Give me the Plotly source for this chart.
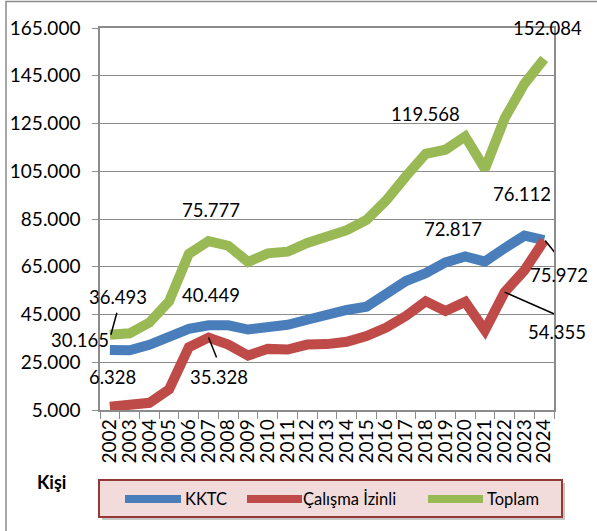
import plotly.graph_objects as go

# ---- data ----
years = [str(y) for y in range(2002, 2025)]
kktc = [30165, 30000, 32300, 35800, 39000, 40449, 40500, 38700, 39700, 40700, 42800, 45200,
        46900, 48300, 53300, 59000, 62300, 66800, 69300, 67200, 72817, 78000, 76112]
calisma = [6328, 6900, 8000, 13600, 31300, 35328, 32400, 27800, 30600, 30300, 32400, 32600,
           33600, 36000, 39500, 44400, 50500, 46500, 50300, 38400, 54355, 63500, 75972]
toplam = [36493, 37100, 41600, 50500, 70400, 75777, 73800, 67000, 70600, 71300, 75000, 78000,
          80300, 84600, 92800, 102900, 112300, 114000, 119568, 106000, 127172, 141600, 152084]
y_tickvals = [5000, 25000, 45000, 65000, 85000, 105000, 125000, 145000, 165000]
y_ticktext = ["5.000", "25.000", "45.000", "65.000", "85.000", "105.000", "125.000", "145.000", "165.000"]
series_names = ["KKTC", "Çalışma İzinli", "Toplam"]
colors = ["#4A7EBB", "#BE4B48", "#98B954"]

FONT = "Lato"
GRID = "#8C8C8C"


def fmt(v):
    return f"{v:,}".replace(",", ".")


fig = go.Figure()
for name, vals, col in zip(series_names, [kktc, calisma, toplam], colors):
    fig.add_trace(go.Scatter(x=years, y=vals, mode="lines", name=name,
                             line=dict(color=col, width=10), showlegend=False))

# data labels: (series values, index, xshift, yshift)
labels = [
    (toplam, 22, 3, 31), (toplam, 18, -40, 22), (kktc, 22, -22, 46),
    (kktc, 20, -52, 19), (calisma, 22, 15, -34), (calisma, 20, 52, -40),
    (toplam, 5, 2, 31), (toplam, 0, 8, 38), (kktc, 0, -30, 10),
    (calisma, 0, 3, 30), (kktc, 5, 2, 30), (calisma, 5, 10, -39),
]
for vals, i, dx, dy in labels:
    fig.add_annotation(x=i, y=vals[i], xref="x", yref="y", text=fmt(vals[i]), showarrow=False,
                       xshift=dx, yshift=dy, font=dict(family=FONT, size=18.5, color="black"))

# leader lines (pixel offsets anchored to data points)
leaders = [(toplam, 0, 7, 22, 1, 0), (calisma, 5, 0, 0, 8, -20),
           (calisma, 20, 0, 0, 50, -22), (calisma, 22, 1, 0, 14, -16)]
for vals, i, x0, y0, x1, y1 in leaders:
    fig.add_shape(type="line", xref="x", yref="y", xsizemode="pixel", ysizemode="pixel",
                  xanchor=i, yanchor=vals[i], x0=x0, y0=y0, x1=x1, y1=y1,
                  line=dict(color="black", width=1.5))

# chart area border (left/top)
W, H, L, B = 454.0, 382.0, 100.0, 410.0
px = lambda x: (x - L) / W
py = lambda y: (B - y) / H
fig.add_shape(type="rect", xref="paper", yref="paper", x0=px(6), x1=px(640), y0=py(1.5), y1=py(580),
              fillcolor="rgba(0,0,0,0)", line=dict(color=GRID, width=1.5), layer="above")

# custom legend
fig.add_shape(type="rect", xref="paper", yref="paper", x0=px(102), x1=px(565), y0=py(520), y1=py(483),
              fillcolor="rgba(0,0,0,0.22)", line=dict(width=0), layer="above")
fig.add_shape(type="rect", xref="paper", yref="paper", x0=px(99), x1=px(562), y0=py(517), y1=py(480),
              fillcolor="#F2DCDB", line=dict(color="#953735", width=2), layer="above")
legend_items = [(125, 181, 183), (247, 302, 301), (428, 483, 485)]
for (s0, s1, tx), name, col in zip(legend_items, series_names, colors):
    fig.add_shape(type="line", xref="paper", yref="paper", x0=px(s0), x1=px(s1), y0=py(499), y1=py(499),
                  line=dict(color=col, width=8), layer="above")
    fig.add_annotation(xref="paper", yref="paper", x=px(tx), y=py(499), xanchor="left", yanchor="middle",
                       text=name, showarrow=False, font=dict(family=FONT, size=16.5, color="black"))

fig.add_annotation(xref="paper", yref="paper", x=px(51), y=py(482), text="<b>Kişi</b>", showarrow=False,
                   xanchor="center", yanchor="middle", font=dict(family=FONT, size=18, color="black"))

fig.update_layout(
    width=597, height=531,
    margin=dict(l=100, r=43, t=28, b=121, pad=0),
    paper_bgcolor="white", plot_bgcolor="white",
    font=dict(family=FONT, size=18, color="black"),
    xaxis=dict(type="category", tickson="boundaries", ticks="outside", ticklen=7, tickcolor=GRID,
               tickmode="linear", dtick=1, automargin=False,
               tickangle=-90, showgrid=False, showline=True, linecolor=GRID, linewidth=1.5, mirror=True,
               tickfont=dict(family=FONT, size=19, color="black"), range=[-0.5, 22.5]),
    yaxis=dict(range=[5000, 165000], tickvals=y_tickvals, ticktext=y_ticktext, ticks="outside",
               ticklen=6, tickcolor=GRID, showgrid=True, gridcolor=GRID, gridwidth=1.2,
               showline=True, linecolor=GRID, linewidth=1.5, mirror=True, zeroline=False,
               automargin=False, ticklabelstandoff=8,
               tickfont=dict(family=FONT, size=19, color="black")),
)
fig.write_html("out.html", config={"displayModeBar": False},
               post_script="document.body.style.margin='0';")
